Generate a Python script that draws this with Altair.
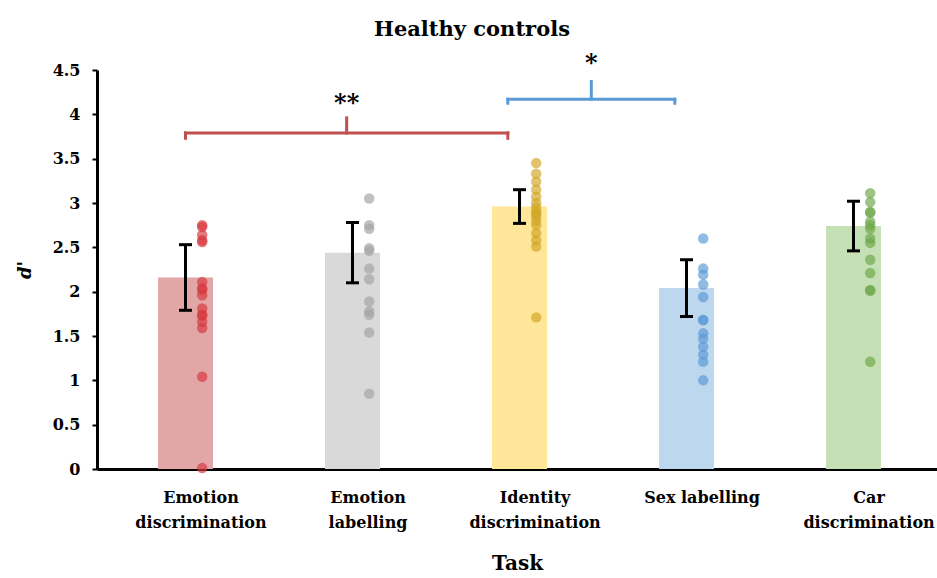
import json

import altair as alt
import pandas as pd

# Tasks and summary statistics (mean d' with error bar half-width)
tasks = [
    "Emotion discrimination",
    "Emotion labelling",
    "Identity discrimination",
    "Sex labelling",
    "Car discrimination",
]
tick_lines = [
    ["Emotion", "discrimination"],
    ["Emotion", "labelling"],
    ["Identity", "discrimination"],
    ["Sex labelling"],
    ["Car", "discrimination"],
]
mean_dprime = [2.16, 2.44, 2.96, 2.04, 2.74]
error_half = [0.37, 0.34, 0.19, 0.32, 0.28]

bar_colors = ["#e2a6a7", "#d9d9d9", "#ffe699", "#bdd7ee", "#c5e0b4"]
dot_colors = ["#d63a40", "#a3a3a3", "#d2a726", "#5b9bd5", "#6fa84a"]

# Individual participant scores per task
emotion_discrimination = [2.75, 2.73, 2.64, 2.58, 2.56, 2.11, 2.04, 2.02, 1.96,
                          1.81, 1.74, 1.73, 1.66, 1.59, 1.04, 0.01]
emotion_labelling = [3.05, 2.75, 2.71, 2.49, 2.46, 2.26, 2.14, 1.89, 1.78, 1.74,
                     1.54, 0.85]
identity_discrimination = [3.45, 3.33, 3.24, 3.15, 3.07, 3.00, 2.95, 2.90, 2.88,
                           2.85, 2.80, 2.75, 2.66, 2.58, 2.51, 1.71]
sex_labelling = [2.60, 2.26, 2.19, 2.08, 1.94, 1.68, 1.68, 1.53, 1.47, 1.38,
                 1.29, 1.21, 1.00]
car_discrimination = [3.11, 3.01, 2.90, 2.89, 2.79, 2.75, 2.71, 2.60, 2.55, 2.36,
                      2.21, 2.02, 2.01, 1.21]
all_scores = [emotion_discrimination, emotion_labelling, identity_discrimination,
              sex_labelling, car_discrimination]

# Significance brackets: span (task index units), height, marker
bracket_start = [1.0, 2.93]
bracket_end = [2.93, 3.93]
bracket_level = [3.79, 4.17]
bracket_hook = [0.06, 0.045]
bracket_rise = [0.17, 0.20]
bracket_label = ["**", "*"]
bracket_label_y = [4.12, 4.57]
bracket_colors = ["#c0504d", "#5b9bd5"]

FONT = "DejaVu Serif"

summary = pd.DataFrame({
    "task": tasks,
    "pos": list(range(1, len(tasks) + 1)),
    "mean": mean_dprime,
    "lo": [m - e for m, e in zip(mean_dprime, error_half)],
    "hi": [m + e for m, e in zip(mean_dprime, error_half)],
})

points = pd.DataFrame([
    {"task": t, "pos": i + 1, "score": s}
    for i, (t, vals) in enumerate(zip(tasks, all_scores))
    for s in vals
])

segments = []
for k in range(len(bracket_label)):
    a, b, lv = bracket_start[k], bracket_end[k], bracket_level[k]
    mid = (a + b) / 2
    grp = bracket_label[k]
    segments += [
        {"g": grp, "x": a, "x2": b, "y": lv, "y2": lv},
        {"g": grp, "x": a, "x2": a, "y": lv, "y2": lv - bracket_hook[k]},
        {"g": grp, "x": b, "x2": b, "y": lv, "y2": lv - bracket_hook[k]},
        {"g": grp, "x": mid, "x2": mid, "y": lv, "y2": lv + bracket_rise[k]},
    ]
segments = pd.DataFrame(segments)
stars = pd.DataFrame({
    "g": bracket_label,
    "x": [(a + b) / 2 for a, b in zip(bracket_start, bracket_end)],
    "y": bracket_label_y,
})

label_expr = json.dumps(tick_lines) + "[round(datum.value) - 1]"

x_scale = alt.Scale(domain=[0.5, 5.47], nice=False, zero=False)
x_axis = alt.Axis(
    title="Task",
    values=[i + 1.09 for i in range(len(tasks))],
    labelExpr=label_expr,
    ticks=False,
    grid=False,
    domainColor="black",
    domainWidth=3,
    labelFont=FONT,
    labelFontWeight="bold",
    labelFontSize=16,
    labelColor="black",
    labelPadding=20,
    labelLineHeight=25,
    labelBaseline="top",
    labelAlign="center",
    labelFlush=False,
    labelOverlap=False,
    titleFont=FONT,
    titleFontWeight="bold",
    titleFontSize=20,
    titleColor="black",
    titlePadding=23,
)
y_scale = alt.Scale(domain=[0, 4.5], nice=False)
y_axis = alt.Axis(
    title="d'",
    values=[i * 0.5 for i in range(10)],
    format=".1~f",
    grid=False,
    domainColor="black",
    domainWidth=3,
    tickColor="black",
    tickWidth=2,
    tickSize=5,
    labelFont=FONT,
    labelFontWeight="bold",
    labelFontSize=16,
    labelColor="black",
    labelPadding=12,
    titleFont=FONT,
    titleFontStyle="italic",
    titleFontWeight="bold",
    titleFontSize=18,
    titleColor="black",
    titlePadding=18,
)

bar_scale = alt.Scale(domain=tasks, range=bar_colors)
dot_scale = alt.Scale(domain=tasks, range=dot_colors)

bars = alt.Chart(summary).mark_bar(size=55).encode(
    x=alt.X("pos:Q", scale=x_scale, axis=x_axis),
    y=alt.Y("mean:Q", scale=y_scale, axis=y_axis),
    color=alt.Color("task:N", scale=bar_scale, legend=None),
)

dots = alt.Chart(points).transform_calculate(
    dot_x="datum.pos + 0.1"
).mark_circle(size=110, opacity=0.68).encode(
    x=alt.X("dot_x:Q", scale=x_scale, axis=x_axis),
    y=alt.Y("score:Q", scale=y_scale, axis=y_axis),
    color=alt.Color("task:N", scale=dot_scale, legend=None),
)

err_line = alt.Chart(summary).mark_rule(color="black", strokeWidth=3).encode(
    x=alt.X("pos:Q", scale=x_scale, axis=x_axis),
    y=alt.Y("lo:Q", scale=y_scale, axis=y_axis),
    y2="hi:Q",
)
err_top = alt.Chart(summary).mark_tick(
    color="black", orient="horizontal", size=13, thickness=3, opacity=1
).encode(
    x=alt.X("pos:Q", scale=x_scale, axis=x_axis),
    y=alt.Y("hi:Q", scale=y_scale, axis=y_axis),
)
err_bottom = alt.Chart(summary).mark_tick(
    color="black", orient="horizontal", size=13, thickness=3, opacity=1
).encode(
    x=alt.X("pos:Q", scale=x_scale, axis=x_axis),
    y=alt.Y("lo:Q", scale=y_scale, axis=y_axis),
)

bracket_scale = alt.Scale(domain=bracket_label, range=bracket_colors)
brackets = alt.Chart(segments).mark_rule(strokeWidth=3, strokeCap="square").encode(
    x=alt.X("x:Q", scale=x_scale, axis=x_axis),
    x2="x2:Q",
    y=alt.Y("y:Q", scale=y_scale, axis=y_axis),
    y2="y2:Q",
    stroke=alt.Stroke("g:N", scale=bracket_scale, legend=None),
)
star_text = alt.Chart(stars).mark_text(
    font=FONT, fontWeight="bold", fontSize=24, color="black", baseline="middle"
).encode(
    x=alt.X("x:Q", scale=x_scale, axis=x_axis),
    y=alt.Y("y:Q", scale=y_scale, axis=y_axis),
    text="g:N",
)

chart = alt.layer(
    bars, dots, err_line, err_top, err_bottom, brackets, star_text
).resolve_scale(color="independent").properties(
    width=840,
    height=399,
    autosize=alt.AutoSizeParams(type="none"),
    padding={"left": 97, "top": 70, "right": 0, "bottom": 109},
    title=alt.Title(
        "Healthy controls",
        font=FONT,
        fontWeight="bold",
        fontSize=21,
        color="black",
        anchor="middle",
        frame="group",
        dx=-45,
        offset=12,
    ),
).configure_view(stroke=None)

chart.save("out.html", embed_options={"renderer": "svg", "actions": False})
